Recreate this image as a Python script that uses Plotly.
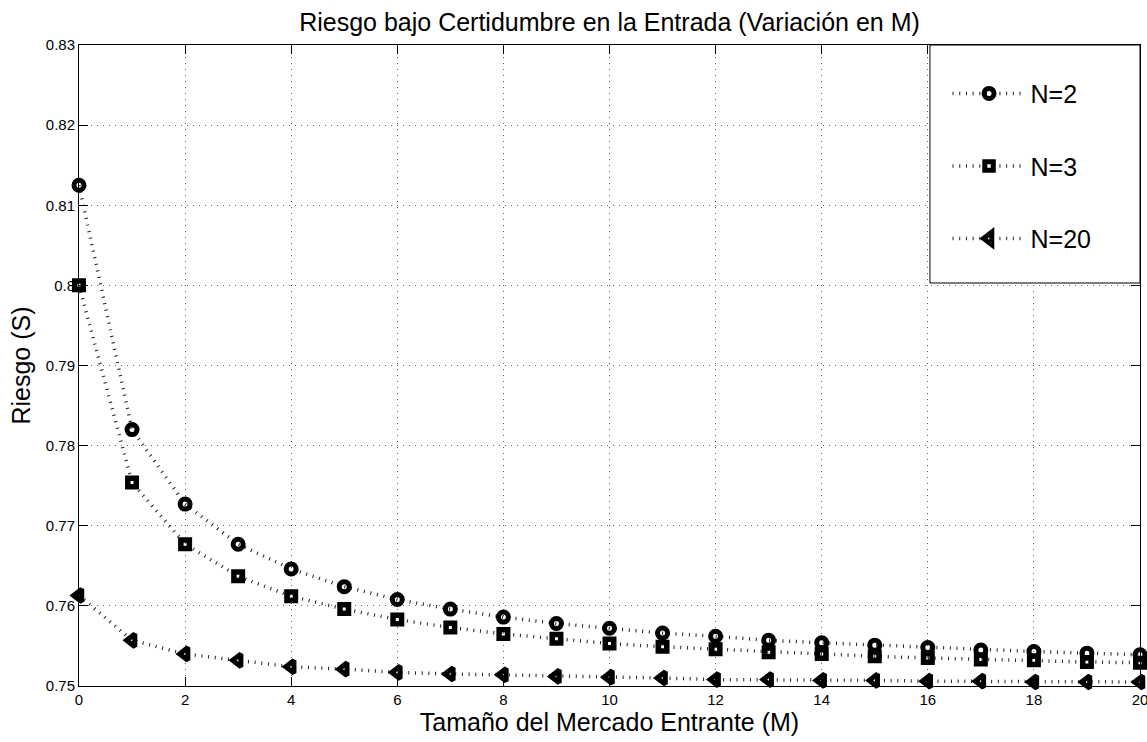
import plotly.graph_objects as go

# ---- data ----
M = list(range(21))
riesgo_n2 = [0.8125, 0.7820, 0.7727, 0.7677, 0.7646, 0.7624, 0.7608, 0.7596, 0.7586, 0.7578,
             0.7572, 0.7566, 0.7562, 0.7557, 0.7554, 0.7551, 0.7548, 0.7545, 0.7543, 0.7541, 0.7539]
riesgo_n3 = [0.8000, 0.7754, 0.7677, 0.7637, 0.7612, 0.7596, 0.7583, 0.7573, 0.7565, 0.7559,
             0.7553, 0.7549, 0.7546, 0.7542, 0.7540, 0.7537, 0.7535, 0.7533, 0.7532, 0.7530, 0.7529]
riesgo_n20 = [0.7613, 0.7557, 0.7540, 0.7532, 0.7524, 0.7521, 0.7517, 0.7515, 0.7514, 0.7512,
              0.7511, 0.7510, 0.7508, 0.7508, 0.7507, 0.7507, 0.7506, 0.7506, 0.7505, 0.7505, 0.7505]
series_names = ["N=2", "N=3", "N=20"]
x_ticks = list(range(0, 21, 2))
y_ticks = [0.75, 0.76, 0.77, 0.78, 0.79, 0.80, 0.81, 0.82, 0.83]
y_tick_labels = ["0.75", "0.76", "0.77", "0.78", "0.79", "0.8", "0.81", "0.82", "0.83"]

FONT = "Liberation Sans, Arial, Helvetica, sans-serif"

fig = go.Figure()
symbols = ["circle-open", "square-open", "triangle-left-open"]
sizes = [10, 8.5, 11]
widths = [5, 5.5, 5]
for name, ys, sym, sz, lw in zip(series_names, [riesgo_n2, riesgo_n3, riesgo_n20], symbols, sizes, widths):
    fig.add_trace(go.Scatter(
        x=M, y=ys, name=name, legendgroup=name,
        mode="lines+markers",
        line=dict(color="#222222", width=3.5, dash="1px,5.7px"),
        marker=dict(symbol=sym, size=sz, color="black", line=dict(color="black", width=lw)),
        cliponaxis=False,
    ))

axis_common = dict(
    showline=True, linecolor="black", linewidth=1, mirror="ticks",
    ticks="inside", ticklen=9, tickwidth=1, tickcolor="black",
    showgrid=True, gridcolor="#666666", gridwidth=1, griddash="1px,5px",
    zeroline=False, ticklabeloverflow="allow", automargin=False,
    tickfont=dict(family=FONT, size=15, color="black"),
)

fig.update_xaxes(
    range=[0, 20], tickmode="array", tickvals=x_ticks,
    title=dict(text="Tamaño del Mercado Entrante (M)", font=dict(family=FONT, size=25, color="black"), standoff=2),
    **axis_common,
)
fig.update_yaxes(
    range=[0.75, 0.83], tickmode="array", tickvals=y_ticks, ticktext=y_tick_labels,
    title=dict(text="Riesgo (S)", font=dict(family=FONT, size=25, color="black"), standoff=8),
    **axis_common,
)

# legend box
fig.add_shape(type="rect", xref="paper", yref="paper",
              x0=0.802, x1=1.0, y0=0.6287, y1=1.0,
              line=dict(color="black", width=1), fillcolor="white", layer="above")

fig.update_layout(
    width=1147, height=742,
    margin=dict(l=79, r=7, t=45, b=56),
    paper_bgcolor="white", plot_bgcolor="white",
    font=dict(family=FONT, color="black"),
    title=dict(text="Riesgo bajo Certidumbre en la Entrada (Variación en M)",
               font=dict(family=FONT, size=25, color="black"),
               x=0.5, xref="paper", xanchor="center", y=0.970, yref="container", yanchor="middle"),
    legend=dict(x=0.8186, y=0.96, xanchor="left", yanchor="top",
                bgcolor="rgba(0,0,0,0)", borderwidth=0,
                font=dict(family=FONT, size=25, color="black"),
                itemwidth=73, tracegroupgap=37),
    showlegend=True,
)

fig.write_html("out.html")
